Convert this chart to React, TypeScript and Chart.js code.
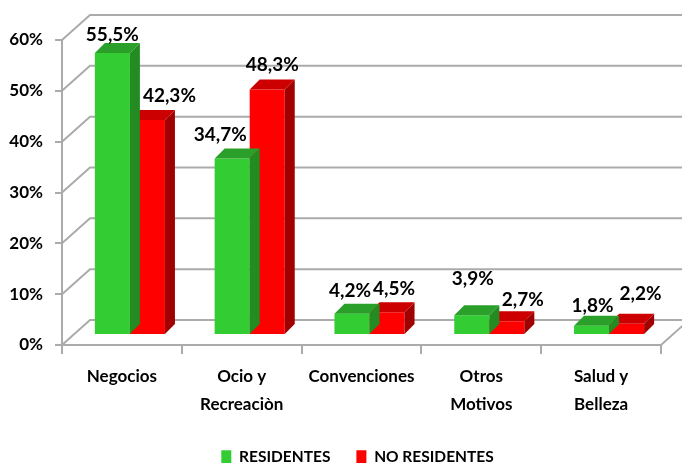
import React, { useEffect, useRef } from 'react';
import { Chart, registerables } from 'chart.js';

Chart.register(...registerables);

// ---------- data ----------
const categories: string[][] = [
  ['Negocios'],
  ['Ocio y', 'Recreaciòn'],
  ['Convenciones'],
  ['Otros', 'Motivos'],
  ['Salud y', 'Belleza'],
];
const seriesNames = ['RESIDENTES', 'NO RESIDENTES'];
const residentes = [55.5, 34.7, 4.2, 3.9, 1.8];
const noResidentes = [42.3, 48.3, 4.5, 2.7, 2.2];
const yTickValues = [0, 10, 20, 30, 40, 50, 60];

// ---------- style ----------
const FONT = "Lato, 'Open Sans', sans-serif";
const GRID = '#ababab';
const AREA_BOTTOM = 345;
const WALL = { dx: 28, dy: -25 };
const BAR_OFF = { dx: 8, dy: -10 };
const BAR_DEPTH = { dx: 10, dy: -10 };
const FRONT = ['#33cc33', '#ff0000'];
const TOP = ['#2a9f2a', '#cc0000'];
const SIDE = ['#228b22', '#a00000'];
const LEGEND_SHIFT = { dx: 27, dy: 12 };
// label nudges (x, y) per dataset, per category
const labelNudgeX = [
  [0, -12, -2, 1, 1],
  [22, 5, 7, 16, 14],
];
const labelNudgeY = [
  [5, -1, 0, -13, 3],
  [-1, -1, 0, 2, -7],
];

const fmt = (v: number) => v.toFixed(1).replace('.', ',') + '%';

const threeD = {
  id: 'threeD',
  afterLayout(chart: any) {
    const lg = chart.legend;
    if (lg) {
      lg.left += LEGEND_SHIFT.dx;
      lg.right += LEGEND_SHIFT.dx;
      lg.top += LEGEND_SHIFT.dy;
      lg.bottom += LEGEND_SHIFT.dy;
    }
    // let the category labels use the space above the legend
    if (chart.scales.x) chart.scales.x.bottom = chart.height;
  },
  beforeDatasetsDraw(chart: any) {
    const { ctx, chartArea, scales } = chart;
    const y = scales.y;
    ctx.save();
    ctx.strokeStyle = GRID;
    ctx.lineWidth = 2;
    yTickValues.forEach((v) => {
      const py = y.getPixelForValue(v);
      ctx.beginPath();
      ctx.moveTo(chartArea.left, py);
      ctx.lineTo(chartArea.left + WALL.dx, py + WALL.dy);
      ctx.lineTo(chart.width + 20, py + WALL.dy);
      ctx.stroke();
    });
    ctx.beginPath();
    ctx.moveTo(chartArea.right, chartArea.bottom);
    ctx.lineTo(chartArea.right + WALL.dx, chartArea.bottom + WALL.dy);
    ctx.stroke();
    ctx.restore();
    ctx.save();
    ctx.translate(BAR_OFF.dx, BAR_OFF.dy);
  },
  afterDatasetDraw(chart: any, args: any) {
    const { ctx } = chart;
    const i = args.index;
    args.meta.data.forEach((el: any) => {
      const { x, y, base, width } = el.getProps(['x', 'y', 'base', 'width'], true);
      const x0 = x - width / 2;
      const x1 = x + width / 2;
      ctx.fillStyle = SIDE[i];
      ctx.beginPath();
      ctx.moveTo(x1, y);
      ctx.lineTo(x1 + BAR_DEPTH.dx, y + BAR_DEPTH.dy);
      ctx.lineTo(x1 + BAR_DEPTH.dx, base + BAR_DEPTH.dy);
      ctx.lineTo(x1, base);
      ctx.closePath();
      ctx.fill();
      ctx.fillStyle = TOP[i];
      ctx.beginPath();
      ctx.moveTo(x0, y);
      ctx.lineTo(x1, y);
      ctx.lineTo(x1 + BAR_DEPTH.dx, y + BAR_DEPTH.dy);
      ctx.lineTo(x0 + BAR_DEPTH.dx, y + BAR_DEPTH.dy);
      ctx.closePath();
      ctx.fill();
    });
  },
  afterDatasetsDraw(chart: any) {
    const { ctx } = chart;
    ctx.restore();
    ctx.save();
    ctx.font = `bold 19px ${FONT}`;
    ctx.fillStyle = '#000';
    ctx.textAlign = 'center';
    ctx.textBaseline = 'alphabetic';
    chart.data.datasets.forEach((ds: any, i: number) => {
      const meta = chart.getDatasetMeta(i);
      meta.data.forEach((el: any, j: number) => {
        const { x, y } = el.getProps(['x', 'y'], true);
        ctx.fillText(
          fmt(ds.data[j]),
          x + BAR_OFF.dx + labelNudgeX[i][j],
          y + BAR_OFF.dy - 17 + labelNudgeY[i][j]
        );
      });
    });
    ctx.restore();
  },
};

export default function App() {
  const ref = useRef<HTMLCanvasElement>(null);
  useEffect(() => {
    document.body.style.margin = '0';
    const canvas = ref.current!;
    const chart = new Chart(canvas, {
      type: 'bar',
      data: {
        labels: categories,
        datasets: [
          { label: seriesNames[0], data: residentes, backgroundColor: FRONT[0], borderWidth: 0 },
          { label: seriesNames[1], data: noResidentes, backgroundColor: FRONT[1], borderWidth: 0 },
        ],
      },
      options: {
        responsive: false,
        animation: false,
        devicePixelRatio: 1,
        layout: { padding: { top: 40, right: 21, left: 0, bottom: 0 } },
        datasets: { bar: { categoryPercentage: 0.585, barPercentage: 1, clip: false as any } },
        plugins: {
          tooltip: { enabled: false },
          legend: {
            position: 'bottom',
            labels: {
              boxWidth: 10,
              boxHeight: 14,
              padding: 26,
              color: '#000',
              font: { family: FONT, size: 15.5, weight: 'bold' },
            },
          },
        },
        scales: {
          x: {
            grid: { display: true, drawOnChartArea: false, offset: true, tickLength: 9, color: GRID, lineWidth: 2 },
            border: { display: true, color: GRID, width: 2 },
            ticks: { color: '#000', padding: 8, font: { family: FONT, size: 17, weight: 'bold', lineHeight: 1.65 }, maxRotation: 0 },
            afterFit: (scale: any) => {
              const lh = scale.chart.legend ? scale.chart.legend.height : 40;
              scale.height = scale.chart.height - AREA_BOTTOM - lh;
            },
          },
          y: {
            min: 0,
            max: 60,
            grid: { display: true, drawOnChartArea: false, tickLength: 7, color: GRID, lineWidth: 2 },
            border: { display: true, color: GRID, width: 2 },
            ticks: {
              stepSize: 10,
              padding: 12,
              color: '#000',
              font: { family: FONT, size: 17, weight: 'bold' },
              callback: (v: any) => v + '%',
            },
            afterFit: (scale: any) => {
              scale.width = 62;
            },
          },
        },
      },
      plugins: [threeD],
    });
    return () => chart.destroy();
  }, []);
  return <canvas ref={ref} width={682} height={463} style={{ display: 'block' }} />;
}
